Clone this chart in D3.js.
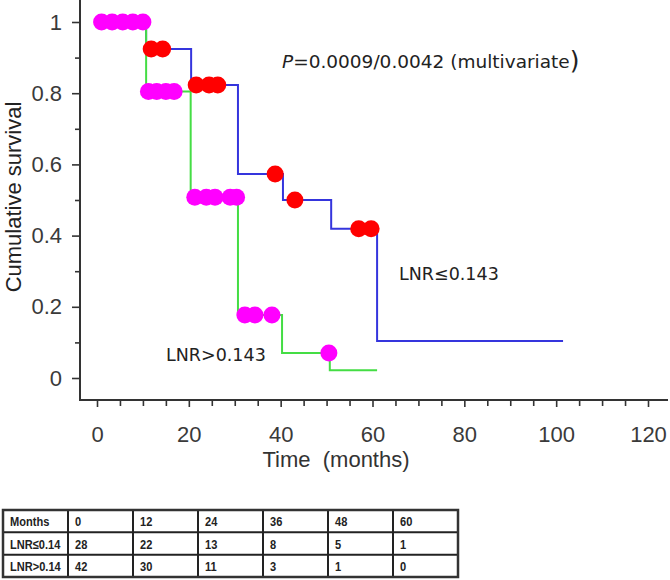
<!DOCTYPE html>
<html>
<head>
<meta charset="utf-8">
<script src="https://cdn.jsdelivr.net/npm/d3@7"></script>
<style>
    body { margin: 0; background: #fff; }
    svg { display: block; }
</style>
</head>
<body>
<div id="chart"></div>
<script>
// Kaplan-Meier steps: survival from each time onward
const lowTimes = [0, 10.7, 20.5, 30.7, 40.5, 51, 61, 101.5];
const lowSurv = [1, 0.924, 0.823, 0.573, 0.50, 0.419, 0.104, 0.104];
const highTimes = [0, 10.7, 20.4, 30.7, 40.3, 50.7, 61];
const highSurv = [1, 0.805, 0.508, 0.177, 0.07, 0.022, 0.022];

// censored observations (months)
const lowCensor = [11.8, 14.3, 21.6, 24.4, 26.3, 38.8, 43.1, 57, 59.7];
const highCensor = [1, 3.3, 5.6, 7.8, 10, 11.2, 13, 15, 16.8, 21.3, 23.8, 25.7, 29, 30.4, 32.2, 34.4, 38.1, 50.5];

const yTicks = [0, 0.2, 0.4, 0.6, 0.8, 1];
const xTicks = [0, 20, 40, 60, 80, 100, 120];

// numbers at risk table
const tableMonths = ["Months", "0", "12", "24", "36", "48", "60"];
const riskLow = ["LNR\u22640.14", 28, 22, 13, 8, 5, 1];
const riskHigh = ["LNR>0.14", 42, 30, 11, 3, 1, 0];

const width = 670, height = 580;
const axisFont = "'Liberation Sans', Arial, sans-serif";
const noteFont = "'DejaVu Sans', Verdana, sans-serif";

const svg = d3.select("#chart").append("svg")
    .attr("width", width)
    .attr("height", height)
    .attr("viewBox", [0, 0, width, height]);

const x = d3.scaleLinear().domain([0, 120]).range([97, 648]);
const y = d3.scaleLinear().domain([0, 1]).range([378, 22]);

function survAt(times, surv, t) {
    return surv[Math.max(0, d3.bisectRight(times, t) - 1)];
}

// axes
function drawAxes() {
    const yAxisX = 80, xAxisY = 400;

    svg.append("g")
        .attr("transform", `translate(${yAxisX},0)`)
        .call(d3.axisLeft(y).tickValues(d3.range(0.1, 1, 0.2)).tickSize(5).tickFormat(""))
        .call(g => g.select(".domain").remove())
        .call(g => g.selectAll(".tick line").attr("stroke", "#333").attr("stroke-width", 1.6));

    svg.append("g")
        .attr("transform", `translate(${yAxisX},0)`)
        .call(d3.axisLeft(y).tickValues(yTicks).tickSize(8).tickPadding(10).tickFormat(d => d))
        .call(g => g.select(".domain").remove())
        .call(g => g.selectAll(".tick line").attr("stroke", "#333").attr("stroke-width", 1.6))
        .call(g => g.selectAll(".tick text")
            .attr("fill", "#3a3a3a")
            .attr("font-family", axisFont)
            .attr("font-size", 22));

    svg.append("g")
        .attr("transform", `translate(0,${xAxisY})`)
        .call(d3.axisBottom(x).tickValues(d3.range(5, 120, 5).filter(d => d % 20 !== 0)).tickSize(6).tickFormat(""))
        .call(g => g.select(".domain").remove())
        .call(g => g.selectAll(".tick line").attr("stroke", "#333").attr("stroke-width", 1.6));

    svg.append("g")
        .attr("transform", `translate(0,${xAxisY})`)
        .call(d3.axisBottom(x).tickValues(xTicks).tickSize(7).tickPadding(19))
        .call(g => g.select(".domain").remove())
        .call(g => g.selectAll(".tick line").attr("stroke", "#333").attr("stroke-width", 1.6))
        .call(g => g.selectAll(".tick text")
            .attr("fill", "#3a3a3a")
            .attr("font-family", axisFont)
            .attr("font-size", 22));

    svg.append("line")
        .attr("x1", yAxisX).attr("x2", yAxisX)
        .attr("y1", 0).attr("y2", xAxisY + 1)
        .attr("stroke", "#333").attr("stroke-width", 2);

    svg.append("line")
        .attr("x1", yAxisX - 1).attr("x2", 668)
        .attr("y1", xAxisY).attr("y2", xAxisY)
        .attr("stroke", "#333").attr("stroke-width", 2);

    svg.append("text")
        .attr("x", 336).attr("y", 467)
        .attr("text-anchor", "middle")
        .attr("fill", "#333")
        .attr("font-family", axisFont)
        .attr("font-size", 22)
        .attr("xml:space", "preserve")
        .text("Time  (months)");

    svg.append("text")
        .attr("transform", "translate(21,197) rotate(-90)")
        .attr("text-anchor", "middle")
        .attr("fill", "#222")
        .attr("font-family", axisFont)
        .attr("font-size", 22)
        .text("Cumulative survival");
}

function drawCurve(times, surv, color) {
    const line = d3.line()
        .x(d => x(d[0]))
        .y(d => y(d[1]))
        .curve(d3.curveStepAfter);
    svg.append("path")
        .datum(d3.zip(times, surv))
        .attr("fill", "none")
        .attr("stroke", color)
        .attr("stroke-width", 2)
        .attr("d", line);
}

function drawCensor(times, surv, censor, color) {
    svg.append("g")
        .selectAll("circle")
        .data(censor)
        .join("circle")
        .attr("cx", d => x(d))
        .attr("cy", d => y(survAt(times, surv, d)))
        .attr("r", 8.5)
        .attr("fill", color);
}

function drawNotes() {
    const p = svg.append("text")
        .attr("x", 282).attr("y", 68)
        .attr("fill", "#222")
        .attr("font-family", noteFont)
        .attr("font-size", 18.5);
    p.append("tspan").attr("font-style", "italic").text("P");
    p.append("tspan").text("=0.0009/0.0042 (multivariate");
    p.append("tspan").attr("font-size", 25).attr("dy", 1).text(")");

    svg.append("text")
        .attr("x", 399).attr("y", 280)
        .attr("fill", "#222")
        .attr("font-family", noteFont)
        .attr("font-size", 17.5)
        .text("LNR\u22640.143");

    svg.append("text")
        .attr("x", 166).attr("y", 361)
        .attr("fill", "#222")
        .attr("font-family", noteFont)
        .attr("font-size", 17.5)
        .text("LNR>0.143");
}

function drawTable() {
    const rows = [tableMonths, riskLow, riskHigh];
    const col = d3.scaleBand().domain(d3.range(tableMonths.length)).range([3, 458]);
    const row = d3.scaleBand().domain(d3.range(rows.length)).range([510, 577]);

    const t = svg.append("g");

    t.selectAll("line.row")
        .data(d3.range(1, rows.length))
        .join("line")
        .attr("x1", col.range()[0]).attr("x2", col.range()[1])
        .attr("y1", d => row(d)).attr("y2", d => row(d))
        .attr("stroke", "#222").attr("stroke-width", 2);

    t.selectAll("line.col")
        .data(d3.range(1, tableMonths.length))
        .join("line")
        .attr("x1", d => col(d)).attr("x2", d => col(d))
        .attr("y1", row.range()[0]).attr("y2", row.range()[1])
        .attr("stroke", "#222").attr("stroke-width", 2);

    t.append("rect")
        .attr("x", col.range()[0]).attr("y", row.range()[0])
        .attr("width", col.range()[1] - col.range()[0])
        .attr("height", row.range()[1] - row.range()[0])
        .attr("fill", "none")
        .attr("stroke", "#333").attr("stroke-width", 2.5);

    // narrow cell text, close to the Calibri look of the original table
    rows.forEach((r, i) => {
        t.append("g").selectAll("text")
            .data(r)
            .join("text")
            .attr("transform", (d, j) => `translate(${col(j) + 7},${row(i) + row.bandwidth() / 2 + 5}) scale(0.82,1)`)
            .attr("fill", "#222")
            .attr("font-family", "'Liberation Sans', Arial, sans-serif")
            .attr("font-weight", "bold")
            .attr("font-size", 13.5)
            .text(d => d);
    });
}

drawAxes();
drawCurve(lowTimes, lowSurv, "#3535dd");
drawCurve(highTimes, highSurv, "#44dd44");
drawCensor(highTimes, highSurv, highCensor, "#ff00ff");
drawCensor(lowTimes, lowSurv, lowCensor, "#ff0000");
drawNotes();
drawTable();
</script>
</body>
</html>
